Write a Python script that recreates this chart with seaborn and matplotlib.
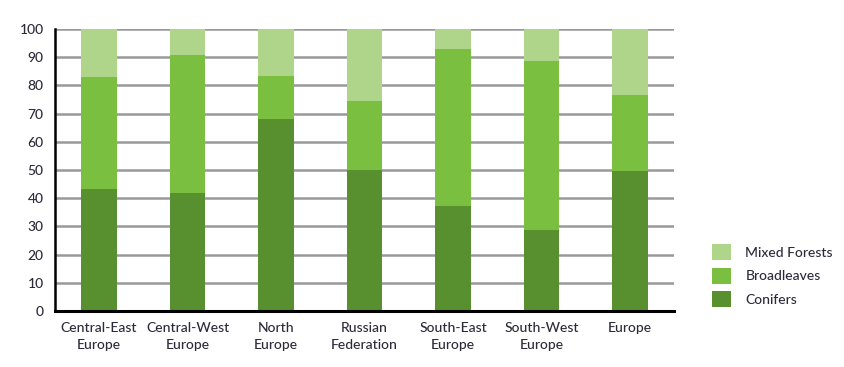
import pandas as pd
import matplotlib.pyplot as plt
import seaborn as sns
from matplotlib.patches import Patch
from matplotlib.ticker import FixedLocator

regions = ["Central-East\nEurope", "Central-West\nEurope", "North\nEurope",
           "Russian\nFederation", "South-East\nEurope", "South-West\nEurope", "Europe"]
conifers = [43.2, 41.7, 68.1, 50.0, 37.3, 28.7, 49.8]
broadleaves = [39.7, 49.2, 15.2, 24.5, 55.6, 60.1, 26.7]
mixed = [17.1, 9.1, 16.7, 25.5, 7.1, 11.2, 23.5]

colors = {"Mixed Forests": "#afd58b", "Broadleaves": "#7bbf40", "Conifers": "#588f2f"}

df = pd.DataFrame({"Region": regions, "Conifers": conifers,
                   "Broadleaves": broadleaves, "Mixed Forests": mixed})
df["top_broad"] = df["Conifers"] + df["Broadleaves"]
df["top_mixed"] = df["top_broad"] + df["Mixed Forests"]

sns.set_style("white")
plt.rcParams['font.family'] = ['Lato', 'DejaVu Sans']
plt.rcParams['font.weight'] = 'medium'
txt = "#2b2b3a"

fig = plt.figure(figsize=(8.44, 3.67), dpi=100)
ax = fig.add_axes([0.065, 0.1526, 0.734, 0.7684])

# stacked by overdrawing cumulative heights
sns.barplot(data=df, x="Region", y="top_mixed", color=colors["Mixed Forests"],
            width=0.4, saturation=1, ax=ax, zorder=3)
sns.barplot(data=df, x="Region", y="top_broad", color=colors["Broadleaves"],
            width=0.4, saturation=1, ax=ax, zorder=3)
sns.barplot(data=df, x="Region", y="Conifers", color=colors["Conifers"],
            width=0.4, saturation=1, ax=ax, zorder=3)
for p in ax.patches:
    p.set_linewidth(0)

ax.set_ylim(0, 100)
ax.set_xlim(-0.5, 6.5)
ax.set_yticks(range(0, 101, 10))
ax.yaxis.grid(True, color="#999999", linewidth=1.8, zorder=0)
ax.set_axisbelow(True)
ax.set_xlabel("")
ax.set_ylabel("")

for s in ["top", "right"]:
    ax.spines[s].set_visible(False)
ax.spines["left"].set_linewidth(1.8)
ax.spines["left"].set_color("black")
ax.spines["bottom"].set_linewidth(2.2)
ax.spines["bottom"].set_color("black")
ax.spines["left"].set_zorder(4)
ax.spines["bottom"].set_zorder(4)

ax.tick_params(axis="y", length=0, pad=8, labelsize=10, labelcolor=txt)
ax.tick_params(axis="x", which="major", length=0, pad=8, labelsize=10, labelcolor=txt)
ax.xaxis.set_minor_locator(FixedLocator([i - 0.5 for i in range(8)]))
ax.tick_params(axis="x", which="minor", length=4, width=0.8, color="#888888")
for lab in ax.get_xticklabels():
    lab.set_linespacing(1.5)

handles = [Patch(facecolor=colors[k], edgecolor="none", label=k)
           for k in ["Mixed Forests", "Broadleaves", "Conifers"]]
fig.legend(handles=handles, loc="upper left", bbox_to_anchor=(0.8436, 0.335),
           frameon=False, fontsize=10, labelcolor=txt, handlelength=1.4,
           handleheight=1.4, labelspacing=0.55, handletextpad=1.0,
           borderpad=0, borderaxespad=0)

plt.savefig("out.png", dpi=100)
